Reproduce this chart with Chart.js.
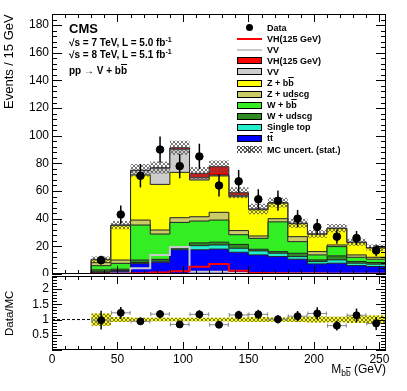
<!DOCTYPE html>
<html>
<head>
<meta charset="utf-8">
<title>V+bb mass</title>
<script src="https://cdn.jsdelivr.net/npm/chart.js@4.4.1/dist/chart.umd.min.js"></script>
<style>
  html, body { margin: 0; padding: 0; background: #fff; }
  #wrap { position: relative; width: 407px; height: 391px; overflow: hidden; font-family: 'Liberation Sans', Arial, sans-serif; color: #000; }
  #wrap canvas { position: absolute; left: 0; }
  #main { top: 0; }
  #ratio { top: 274px; }
  .t { position: absolute; white-space: nowrap; }
  .vt { position: absolute; writing-mode: vertical-rl; transform: rotate(180deg); white-space: nowrap; }
  .ob { text-decoration: overline; }
  .sp { font-size: 7px; vertical-align: 4px; line-height: 0; }
  #legend { position: absolute; left: 237px; top: 22px; font-size: 9px; font-weight: bold; }
  #legend .row { height: 11.1px; display: flex; align-items: center; white-space: nowrap; }
  #legend .mk { position: relative; width: 25px; height: 7px; margin-right: 5px; flex: none; box-sizing: border-box; }
  .box { border: 1px solid #000; }
  #legend .ln { height: 2px; }
  .dot::after { content: ''; position: absolute; left: 9px; top: 0; width: 7px; height: 7px; border-radius: 50%; background: #000; }
  .hatch { background: repeating-linear-gradient(45deg, #555 0 1px, transparent 1px 3px), repeating-linear-gradient(-45deg, #555 0 1px, transparent 1px 3px); }
</style>
</head>
<body>
<div id="wrap">
  <canvas id="main" width="407" height="276"></canvas>
  <canvas id="ratio" width="407" height="117"></canvas>

  <div class="t" style="left:69px; top:21px; font-weight:bold; font-size:13px;">CMS</div>
  <div class="t" style="left:69px; top:37px; font-weight:bold; font-size:10px;">√s = 7 TeV, L = 5.0 fb<span class="sp">-1</span></div>
  <div class="t" style="left:69px; top:49px; font-weight:bold; font-size:10px;">√s = 8 TeV, L = 5.1 fb<span class="sp">-1</span></div>
  <div class="t" style="left:69px; top:65px; font-weight:bold; font-size:10px;">pp → V + b<span class="ob">b</span></div>

  <div id="legend">
    <div class="row"><span class="mk dot"></span>Data</div>
    <div class="row"><span class="mk ln" style="background:#ff0000"></span>VH(125 GeV)</div>
    <div class="row"><span class="mk ln" style="background:#c8c8c8"></span>VV</div>
    <div class="row"><span class="mk box" style="background:#ff0000"></span>VH(125 GeV)</div>
    <div class="row"><span class="mk box" style="background:#cccccc"></span>VV</div>
    <div class="row"><span class="mk box" style="background:#ffff00"></span>Z + b<span class="ob">b</span></div>
    <div class="row"><span class="mk box" style="background:#cccc66"></span>Z + udscg</div>
    <div class="row"><span class="mk box" style="background:#33ee22"></span>W + b<span class="ob">b</span></div>
    <div class="row"><span class="mk box" style="background:#2e8b22"></span>W + udscg</div>
    <div class="row"><span class="mk box" style="background:#22eecc"></span>Single top</div>
    <div class="row"><span class="mk box" style="background:#0000ff"></span>t<span class="ob">t</span></div>
    <div class="row"><span class="mk hatch"></span>MC uncert. (stat.)</div>
  </div>

  <div class="vt" style="left:1px; top:14px; height:150px; text-align:end; font-size:13px; line-height:16px;">Events / 15 GeV</div>
  <div class="vt" style="left:1px; top:276px; height:74px; text-align:center; font-size:11.5px; line-height:16px;">Data/MC</div>
  <div class="t" style="right:21px; top:362px; font-size:12px;">M<sub style="font-size:8.5px">b<span class="ob">b</span></sub> (GeV)</div>
</div>

<script>
// 15 GeV bins in the dijet mass
const binEdges = [30, 45, 60, 75, 90, 105, 120, 135, 150, 165, 180, 195, 210, 225, 240, 255];
const binCenters = [37.5, 52.5, 67.5, 82.5, 97.5, 112.5, 127.5, 142.5, 157.5, 172.5, 187.5, 202.5, 217.5, 232.5, 247.5];

// observed events
const dataCounts = [10, 43, 71, 90, 78, 85, 64, 67, 54, 53, 40, 34, 27, 26, 17];
const dataErr = [3.2, 6.6, 8.4, 9.5, 8.8, 9.2, 8.0, 8.2, 7.3, 7.3, 6.3, 5.8, 5.2, 5.1, 4.1];

// MC stack, bottom to top
const ttbar = [1.2, 2.0, 7.5, 8.5, 17.5, 17.5, 18.0, 15.7, 13.8, 12.6, 10.7, 7.3, 7.8, 6.1, 5.4];
const singleTop = [0.3, 0.5, 0.8, 0.7, 0.7, 3.0, 3.0, 2.9, 2.9, 2.4, 1.9, 1.7, 2.4, 1.7, 1.7];
const wUdscg = [1.5, 1.0, 1.8, 1.4, 1.6, 2.0, 2.0, 2.8, 1.2, 1.2, 2.4, 1.2, 2.9, 1.2, 1.2];
const wBB = [3.0, 4.2, 25.3, 18.3, 17.5, 15.8, 16.0, 7.0, 7.9, 21.5, 8.4, 3.6, 6.7, 3.1, 2.4];
const zUdscg = [2.2, 2.4, 3.6, 2.9, 3.4, 3.1, 5.6, 3.0, 1.7, 2.3, 3.6, 2.4, 1.2, 1.7, 1.4];
const zBB = [2.1, 24.9, 32.6, 33.0, 32.8, 26.6, 26.3, 24.5, 19.0, 11.2, 9.4, 12.5, 11.8, 8.9, 6.7];
const vvStack = [0.2, 0.3, 3.2, 11.7, 16.7, 1.6, 0.7, 1.0, 0.3, 0.2, 0.2, 0.2, 0.2, 0.2, 0.2];
const vhStack = [0.1, 0.1, 0.2, 0.4, 1.1, 3.2, 6.0, 1.9, 0.2, 0.2, 0.1, 0.1, 0.1, 0.1, 0.1];
const mcErr = [2.0, 3.0, 4.5, 4.5, 5.0, 4.5, 4.5, 4.0, 3.8, 3.5, 3.2, 2.8, 3.0, 2.5, 2.3];

// unstacked signal / diboson shapes
const vhShape = [0.1, 0.2, 0.5, 1.0, 2.0, 5.3, 7.2, 2.4, 0.8, 0.5, 0.3, 0.3, 0.2, 0.2, 0.1];
const vvShape = [0.0, 0.3, 4.2, 13.7, 19.5, 1.7, 1.7, 0.8, 0.5, 0.4, 0.3, 0.3, 0.2, 0.2, 0.2];

// ratio panel
const ratio = [0.98, 1.22, 0.94, 1.18, 0.84, 1.17, 0.83, 1.15, 1.17, 1.01, 1.11, 1.2, 0.8, 1.14, 0.87];
const ratioErr = [0.31, 0.19, 0.11, 0.12, 0.10, 0.13, 0.10, 0.14, 0.15, 0.14, 0.17, 0.2, 0.16, 0.22, 0.21];
const ratioBand = [0.2, 0.08, 0.06, 0.06, 0.06, 0.06, 0.06, 0.07, 0.08, 0.07, 0.08, 0.1, 0.09, 0.11, 0.13];

const yTicks = [0, 20, 40, 60, 80, 100, 120, 140, 160, 180];
const xTicks = [0, 50, 100, 150, 200, 250];
const ratioTicks = [0.5, 1, 1.5, 2];

const FONT = 'Liberation Sans';

// histogram outline as points for a stepped line
function steps(vals, start, close) {
  const pts = [];
  if (start !== undefined) pts.push({ x: start, y: 0 });
  binEdges.forEach((e, i) => pts.push({ x: e, y: vals[Math.min(i, vals.length - 1)] }));
  if (close) pts.push({ x: binEdges[binEdges.length - 1], y: 0 });
  return pts;
}

// keep the plot frame exactly where the axis widths say
function fixAxis(size) {
  return s => {
    if (s.isHorizontal()) s.height = size; else s.width = size;
    s.paddingTop = 0; s.paddingBottom = 0; s.paddingLeft = 0; s.paddingRight = 0;
  };
}

const hatch = (() => {
  const c = document.createElement('canvas');
  c.width = 4; c.height = 4;
  const g = c.getContext('2d');
  g.strokeStyle = '#555';
  g.lineWidth = 0.8;
  g.beginPath();
  g.moveTo(0, 0); g.lineTo(4, 4);
  g.moveTo(4, 0); g.lineTo(0, 4);
  g.stroke();
  return g.createPattern(c, 'repeat');
})();

// ROOT-like frame with ticks pointing inward
const frameTicks = {
  id: 'frameTicks',
  afterDraw(chart, args, opts) {
    const { ctx, chartArea: a, scales } = chart;
    ctx.save();
    ctx.strokeStyle = '#000';
    ctx.lineWidth = 1;
    ctx.strokeRect(a.left + 0.5, a.top + 0.5, a.right - a.left - 1, a.bottom - a.top - 1);
    ctx.beginPath();
    const marks = (scale, spec, draw) => {
      const n = Math.round((scale.max - scale.min) / spec.minor);
      for (let k = 0; k <= n; k++) {
        const v = scale.min + k * spec.minor;
        if (v > scale.max + 1e-9) break;
        const major = Math.abs(v / spec.major - Math.round(v / spec.major)) < 1e-6;
        draw(Math.round(scale.getPixelForValue(v)) + 0.5, major ? spec.len : spec.len / 2);
      }
    };
    marks(scales.x, opts.x, (p, l) => {
      ctx.moveTo(p, a.bottom); ctx.lineTo(p, a.bottom - l);
      ctx.moveTo(p, a.top); ctx.lineTo(p, a.top + l);
    });
    marks(scales.y, opts.y, (p, l) => {
      ctx.moveTo(a.left, p); ctx.lineTo(a.left + l, p);
      ctx.moveTo(a.right, p); ctx.lineTo(a.right - l, p);
    });
    ctx.stroke();
    ctx.restore();
  }
};

// error bars drawn just under the marker dataset
const errorBars = {
  id: 'errorBars',
  beforeDatasetDraw(chart, args) {
    const ds = chart.data.datasets[args.index];
    if (!ds.yErr) return;
    const { ctx, scales: { x, y } } = chart;
    ctx.save();
    ds.data.forEach((p, i) => {
      const px = x.getPixelForValue(p.x);
      const py = y.getPixelForValue(p.y);
      if (ds.xErr) {
        const l = x.getPixelForValue(p.x - ds.xErr);
        const r = x.getPixelForValue(p.x + ds.xErr);
        ctx.strokeStyle = '#888';
        ctx.lineWidth = 1;
        ctx.beginPath();
        ctx.moveTo(l, py); ctx.lineTo(r, py);
        ctx.moveTo(l + 0.5, py - 2); ctx.lineTo(l + 0.5, py + 2);
        ctx.moveTo(r - 0.5, py - 2); ctx.lineTo(r - 0.5, py + 2);
        ctx.stroke();
      }
      ctx.strokeStyle = '#000';
      ctx.lineWidth = 1.5;
      ctx.beginPath();
      ctx.moveTo(px, y.getPixelForValue(p.y - ds.yErr[i]));
      ctx.lineTo(px, y.getPixelForValue(p.y + ds.yErr[i]));
      ctx.stroke();
    });
    ctx.restore();
  }
};

const layers = [
  ['tt', ttbar, '#0000ff'],
  ['Single top', singleTop, '#22eecc'],
  ['W + udscg', wUdscg, '#2e8b22'],
  ['W + bb', wBB, '#33ee22'],
  ['Z + udscg', zUdscg, '#cccc66'],
  ['Z + bb', zBB, '#ffff00'],
  ['VV', vvStack, '#cccccc'],
  ['VH(125 GeV)', vhStack, '#ff0000']
];
let running = binCenters.map(() => 0);
const stackSets = layers.map(([label, vals, color], i) => {
  running = running.map((r, j) => r + vals[j]);
  return {
    label, data: steps(running, 30, true), stepped: true,
    backgroundColor: color, borderColor: '#222', borderWidth: 1,
    fill: i === 0 ? 'origin' : '-1', pointRadius: 0, order: 10
  };
});
const total = running;

const axisText = { font: { family: FONT, size: 12 }, color: '#000', callback: v => String(v) };
const noGrid = { display: false, drawTicks: false };

new Chart(document.getElementById('main'), {
  type: 'line',
  data: {
    datasets: [
      ...stackSets,
      { label: 'unc low', data: steps(total.map((t, i) => t - mcErr[i])), stepped: true,
        borderWidth: 0, pointRadius: 0, fill: false, order: 5 },
      { label: 'MC uncert. (stat.)', data: steps(total.map((t, i) => t + mcErr[i])), stepped: true,
        borderWidth: 0, pointRadius: 0, backgroundColor: hatch, fill: '-1', order: 5 },
      { label: 'VV line', data: steps(vvShape, 0, true), stepped: true,
        borderColor: '#c8c8c8', borderWidth: 2, pointRadius: 0, fill: false, order: 3 },
      { label: 'VH line', data: steps(vhShape, 0, true), stepped: true,
        borderColor: '#ff0000', borderWidth: 2, pointRadius: 0, fill: false, order: 2 },
      { label: 'Data', data: binCenters.map((x, i) => ({ x, y: dataCounts[i] })), yErr: dataErr,
        showLine: false, pointRadius: 3.8, pointBackgroundColor: '#000', pointBorderColor: '#000', order: 0 }
    ]
  },
  options: {
    responsive: false,
    animation: false,
    devicePixelRatio: 1,
    layout: { autoPadding: false, padding: { top: 14, right: 21, bottom: 2, left: 0 } },
    plugins: {
      legend: { display: false },
      tooltip: { enabled: false },
      frameTicks: { x: { major: 50, minor: 10, len: 8 }, y: { major: 20, minor: 4, len: 10 } }
    },
    scales: {
      x: { type: 'linear', min: 0, max: 255, display: false },
      y: {
        min: 0, max: 188,
        afterFit: fixAxis(52),
        afterBuildTicks: s => { s.ticks = yTicks.map(v => ({ value: v })); },
        ticks: { ...axisText, padding: 3 },
        grid: noGrid, border: { display: false }
      }
    }
  },
  plugins: [frameTicks, errorBars]
});

new Chart(document.getElementById('ratio'), {
  type: 'line',
  data: {
    datasets: [
      { label: 'band low', data: steps(ratioBand.map(b => 1 - b)), stepped: true,
        borderWidth: 0, pointRadius: 0, fill: false, order: 12 },
      { label: 'band', data: steps(ratioBand.map(b => 1 + b)), stepped: true,
        borderWidth: 0, pointRadius: 0, backgroundColor: '#ffff00', fill: '-1', order: 11 },
      { label: 'band hatch', data: steps(ratioBand.map(b => 1 + b)), stepped: true,
        borderWidth: 0, pointRadius: 0, backgroundColor: hatch, fill: '-2', order: 10 },
      { label: 'unity', data: [{ x: 0, y: 1 }, { x: 255, y: 1 }], borderColor: '#000',
        borderWidth: 1, borderDash: [3, 2], pointRadius: 0, fill: false, order: 20 },
      { label: 'Data/MC', data: binCenters.map((x, i) => ({ x, y: ratio[i] })), yErr: ratioErr, xErr: 7.5,
        showLine: false, pointRadius: 3.5, pointBackgroundColor: '#000', pointBorderColor: '#000', order: 0 }
    ]
  },
  options: {
    responsive: false,
    animation: false,
    devicePixelRatio: 1,
    layout: { autoPadding: false, padding: { top: 2, right: 21, bottom: 0, left: 0 } },
    plugins: {
      legend: { display: false },
      tooltip: { enabled: false },
      frameTicks: { x: { major: 50, minor: 10, len: 8 }, y: { major: 0.5, minor: 0.1, len: 10 } }
    },
    scales: {
      x: {
        type: 'linear', min: 0, max: 255,
        afterFit: fixAxis(41),
        afterBuildTicks: s => { s.ticks = xTicks.map(v => ({ value: v })); },
        ticks: { ...axisText, padding: 2, maxRotation: 0 },
        grid: noGrid, border: { display: false }
      },
      y: {
        min: 0, max: 2.43,
        afterFit: fixAxis(52),
        afterBuildTicks: s => { s.ticks = ratioTicks.map(v => ({ value: v })); },
        ticks: { ...axisText, padding: 3 },
        grid: noGrid, border: { display: false }
      }
    }
  },
  plugins: [frameTicks, errorBars]
});
</script>
</body>
</html>
